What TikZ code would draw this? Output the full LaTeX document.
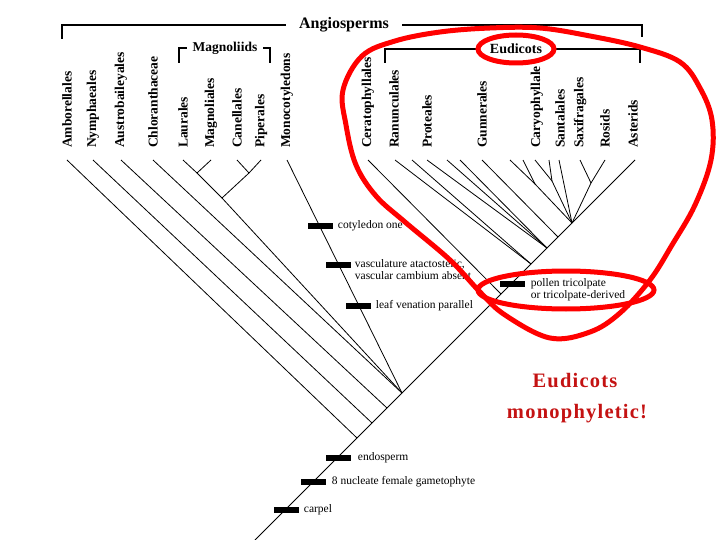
\documentclass[tikz,border=0pt]{standalone}
\usepackage{fontspec}
\setmainfont{Liberation Serif}
\newfontfamily\notefont[LetterSpace=6]{Liberation Serif}
\usetikzlibrary{positioning, calc}
\definecolor{notered}{RGB}{196, 18, 18}

\begin{document}
\begin{tikzpicture}[
  x=1pt, y=-1pt,
  taxon/.style={rotate=90, anchor=west, inner sep=0pt, font=\fontsize{13.5}{14}\selectfont\bfseries},
  clade/.style={fill=white, inner ysep=0pt, font=\fontsize{14}{16}\selectfont\bfseries},
  bracket/.style={line width=2pt},
  branch/.style={line width=0.8pt},
  trait/.style={fill=black, inner sep=0pt, minimum width=25pt, minimum height=6pt},
  traitlabel/.style={inner sep=0pt, align=left, font=\fontsize{11.5}{12}\selectfont},
  redline/.style={draw=red, line width=5pt},
  note/.style={text=notered, font=\notefont\fontsize{20.5}{24}\selectfont\bfseries}
]
  \useasboundingbox (0,0) rectangle (720,540);

  % Gruppen oben
  \node[clade, inner xsep=13pt, font=\fontsize{16}{18}\selectfont\bfseries] (angio) at (344,25) {Angiosperms};
  \node[clade, inner xsep=6pt, font=\fontsize{13.5}{16}\selectfont\bfseries] (magn) at (225,48) {Magnoliids};
  \node[clade, inner xsep=11pt] (eudi) at (516,49) {Eudicots};
  \coordinate (angio-l) at (62,39);
  \coordinate (angio-r) at (642,37);
  \coordinate (magn-l) at (179,63);
  \coordinate (magn-r) at (270,63);
  \coordinate (eudi-l) at (385,63);
  \coordinate (eudi-r) at (640,63);
  \draw[bracket] (angio.west) -| (angio-l);
  \draw[bracket] (angio.east) -| (angio-r);
  \draw[bracket] (magn.west) -| (magn-l);
  \draw[bracket] (magn.east) -| (magn-r);
  \draw[bracket] (eudi.west) -| (eudi-l);
  \draw[bracket] (eudi.east) -| (eudi-r);

  % Taxa
  \node[taxon] (amb) at (67,148) {Amborellales};
  \node[taxon] (nym) at (93,148) {Nymphaeales};
  \node[taxon] (aus) at (121,148) {Austrobaileyales};
  \node[taxon] (chl) at (153,148) {Chloranthaceae};
  \node[taxon] (lau) at (183,148) {Laurales};
  \node[taxon] (mag) at (211,148) {Magnoliales};
  \node[taxon] (can) at (237,148) {Canellales};
  \node[taxon] (pip) at (261,148) {Piperales};
  \node[taxon] (mon) at (287,148) {Monocotyledons};
  \node[taxon] (cer) at (368,148) {Ceratophyllales};
  \node[taxon] (ran) at (394,148) {Ranunculales};
  \node[taxon] (pro) at (427,148) {Proteales};
  \node[taxon] (gun) at (482,148) {Gunnerales};
  \node[taxon] (car) at (537,148) {Caryophyllale};
  \node[taxon] (san) at (560,148) {Santalales};
  \node[taxon] (sax) at (580,148) {Saxifragales};
  \node[taxon] (ros) at (605,148) {Rosids};
  \node[taxon] (ast) at (633,148) {Asterids};

  % Spitzen der Aeste
  \foreach \t/\x in {amb/67, nym/93, aus/121, chl/153, lau/183, mag/211, can/237, pip/261,
      mon/287, cer/368, ran/395, u1/412, pro/427, u2/447, u3/460, gun/482, u4/510, u5/523,
      car/535, u6/549, san/559, sax/580, ros/605, ast/635}
    \coordinate (tip-\t) at (\x,160);

  % Knoten
  \coordinate (root) at (255,540);
  \coordinate (n1) at (357,438);
  \coordinate (n2) at (372,423);
  \coordinate (n3) at (387,408);
  \coordinate (n4) at (402,393);
  \coordinate (n5) at (501,294);
  \coordinate (n6) at (531,264);
  \coordinate (n7) at (547,248);
  \coordinate (n8) at (558,237);
  \coordinate (n9) at (572,223);
  \coordinate (mg1) at (197,173);
  \coordinate (mg2) at (249,173);
  \coordinate (mg) at (222,198);
  \coordinate (c1) at (535,184);
  \coordinate (c2) at (552,181);
  \coordinate (c3) at (591,183);

  \draw[branch] (root) -- (tip-ast);
  \foreach \a/\b in {tip-amb/n1, tip-nym/n2, tip-aus/n3, tip-chl/n4, tip-mon/n4, mg/n4,
      tip-lau/mg1, tip-mag/mg1, tip-can/mg2, tip-pip/mg2, mg1/mg, mg2/mg,
      tip-cer/n5, tip-ran/n6, tip-u1/n6, tip-pro/n7, tip-u2/n7, tip-u3/n7, tip-gun/n8,
      tip-u4/c1, tip-u5/c1, c1/n9, tip-car/c2, tip-u6/c2, c2/n9, tip-san/n9,
      tip-sax/c3, tip-ros/c3, c3/n9}
    \draw[branch] (\a) -- (\b);

  % Merkmale
  \node[trait] (cot) at (320,226) {};
  \node[traitlabel, right=5pt of cot] {cotyledon one};
  \node[trait] (vas) at (338,265) {};
  \node[traitlabel, anchor=north west] at ([xshift=4pt, yshift=6pt]vas.east) {vasculature atactostelic,\\vascular cambium absent};
  \node[trait] (leaf) at (358,306) {};
  \node[traitlabel, right=5pt of leaf] {leaf venation parallel};
  \node[trait] (pol) at (512,284) {};
  \node[traitlabel, anchor=north west] at ([xshift=6pt, yshift=6pt]pol.east) {pollen tricolpate\\or tricolpate-derived};
  \node[trait] (endo) at (338,458) {};
  \node[traitlabel, right=7pt of endo] {endosperm};
  \node[trait] (game) at (313,482) {};
  \node[traitlabel, right=6pt of game] {8 nucleate female gametophyte};
  \node[trait] (carp) at (286,510) {};
  \node[traitlabel, right=5pt of carp] {carpel};

  % rote Markierungen
  \draw[redline] (516,49) ellipse [x radius=38, y radius=14];
  \draw[redline] (566,290) ellipse [x radius=88, y radius=19];
  \draw[redline] plot[smooth cycle, tension=0.6] coordinates {
      (343,90) (346,125) (356,165) (376,196) (405,222) (450,260) (480,292) (505,315)
      (550,338) (590,332) (620,313) (650,280) (672,245) (695,205) (711,160) (712,120)
      (700,88) (680,62) (640,47) (590,36) (540,28) (490,28) (440,32) (395,41) (362,56)};

  \node[note] (eud-note) at (575,381) {Eudicots};
  \node[note] (mono-note) at (577,414) {monophyletic!};

\end{tikzpicture}
\end{document}
